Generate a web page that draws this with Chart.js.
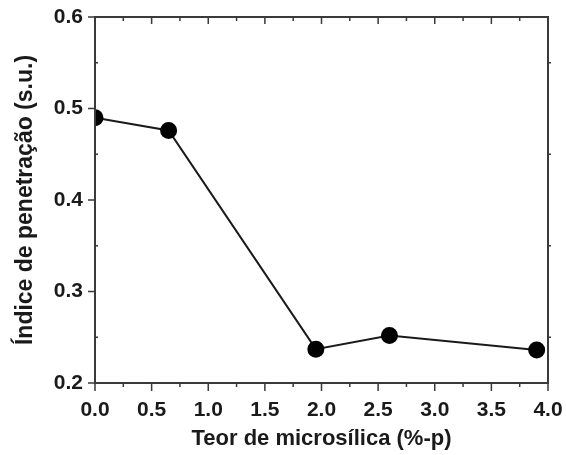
<!DOCTYPE html>
<html>
<head>
<meta charset="utf-8">
<script src="https://cdn.jsdelivr.net/npm/chart.js@4.4.0/dist/chart.umd.min.js"></script>
<style>
  html, body { margin: 0; padding: 0; background: #fff; }
  #wrap { width: 566px; height: 455px; }
</style>
</head>
<body>
<div id="wrap"><canvas id="c" width="566" height="455"></canvas></div>
<script>
// Microsilica content (wt%) and penetration index (s.u.)
const microsilica = [0, 0.65, 1.95, 2.6, 3.9];
const penetration = [0.49, 0.476, 0.237, 0.252, 0.236];

const xTicks = [0, 0.5, 1.0, 1.5, 2.0, 2.5, 3.0, 3.5, 4.0];
const yTicks = [0.2, 0.3, 0.4, 0.5, 0.6];

const xTitle = 'Teor de microsílica (%-p)';
const yTitle = 'Índice de penetração (s.u.)';

const ink = '#1a1a1a';
const axisColor = '#3a3a3a';
const font = '"Liberation Sans", Arial, sans-serif';

// Keep markers inside the plot frame (the point at x = 0 is cut by the axis).
const clipPlugin = {
  id: 'clipToArea',
  beforeDatasetsDraw(chart) {
    const { ctx, chartArea: a } = chart;
    ctx.save();
    ctx.beginPath();
    ctx.rect(a.left, a.top, a.right - a.left, a.bottom - a.top);
    ctx.clip();
  },
  afterDatasetsDraw(chart) {
    chart.ctx.restore();
  }
};

// Frame and tick marks: majors outward on bottom/left, minors inward,
// plus mirrored ticks on top and right edges.
const framePlugin = {
  id: 'frame',
  afterDraw(chart) {
    const { ctx, chartArea: a, scales: { x, y } } = chart;
    ctx.save();
    ctx.strokeStyle = axisColor;
    ctx.lineWidth = 2;
    ctx.strokeRect(a.left, a.top, a.right - a.left, a.bottom - a.top);
    ctx.lineWidth = 1.5;
    ctx.beginPath();
    for (let i = 0; i < xTicks.length; i++) {
      const px = x.getPixelForValue(xTicks[i]);
      ctx.moveTo(px, a.bottom); ctx.lineTo(px, a.bottom + 8);
      ctx.moveTo(px, a.top); ctx.lineTo(px, a.top + 7);
      if (i < xTicks.length - 1) {
        const pm = x.getPixelForValue((xTicks[i] + xTicks[i + 1]) / 2);
        ctx.moveTo(pm, a.bottom); ctx.lineTo(pm, a.bottom + 4);
        ctx.moveTo(pm, a.top); ctx.lineTo(pm, a.top + 4);
      }
    }
    for (let i = 0; i < yTicks.length; i++) {
      const py = y.getPixelForValue(yTicks[i]);
      ctx.moveTo(a.left, py); ctx.lineTo(a.left - 7, py);
      if (i < yTicks.length - 1) {
        const pm = y.getPixelForValue((yTicks[i] + yTicks[i + 1]) / 2);
        ctx.moveTo(a.left, pm); ctx.lineTo(a.left + 3, pm);
        ctx.moveTo(a.right, pm); ctx.lineTo(a.right + 3, pm);
      }
    }
    ctx.stroke();
    ctx.restore();
  }
};

new Chart(document.getElementById('c'), {
  type: 'scatter',
  data: {
    datasets: [{
      data: microsilica.map((v, i) => ({ x: v, y: penetration[i] })),
      showLine: true,
      borderColor: ink,
      borderWidth: 2,
      backgroundColor: '#000',
      pointBackgroundColor: '#000',
      pointBorderColor: '#000',
      pointRadius: 7.5,
      pointHoverRadius: 7.5,
      clip: 0
    }]
  },
  options: {
    responsive: false,
    animation: false,
    devicePixelRatio: 1,
    layout: { padding: { top: 17, right: 18, left: 0, bottom: 0 } },
    plugins: { legend: { display: false }, tooltip: { enabled: false } },
    scales: {
      x: {
        type: 'linear',
        min: 0, max: 4,
        afterBuildTicks(s) { s.ticks = xTicks.map(v => ({ value: v })); },
        afterFit(s) { s.height = 72; s.paddingLeft = 0; s.paddingRight = 0; },
        grid: { display: false, drawTicks: false },
        border: { display: false },
        ticks: {
          padding: 15,
          color: ink,
          font: { family: font, size: 21, weight: 'bold' },
          callback: v => v.toFixed(1),
          maxRotation: 0,
          autoSkip: false
        },
        title: {
          display: true,
          text: xTitle,
          color: ink,
          padding: { top: 0, bottom: 3 },
          font: { family: font, size: 22, weight: 'bold' }
        }
      },
      y: {
        type: 'linear',
        min: 0.2, max: 0.6,
        afterBuildTicks(s) { s.ticks = yTicks.map(v => ({ value: v })); },
        afterFit(s) { s.width = 95; s.paddingTop = 0; s.paddingBottom = 0; },
        grid: { display: false, drawTicks: false },
        border: { display: false },
        ticks: {
          padding: 12,
          color: ink,
          font: { family: font, size: 21, weight: 'bold' },
          callback: v => v.toFixed(1),
          autoSkip: false
        },
        title: {
          display: true,
          text: yTitle,
          color: ink,
          padding: { top: 12, bottom: 0 },
          font: { family: font, size: 23, weight: 'bold' }
        }
      }
    }
  },
  plugins: [clipPlugin, framePlugin]
});
</script>
</body>
</html>
